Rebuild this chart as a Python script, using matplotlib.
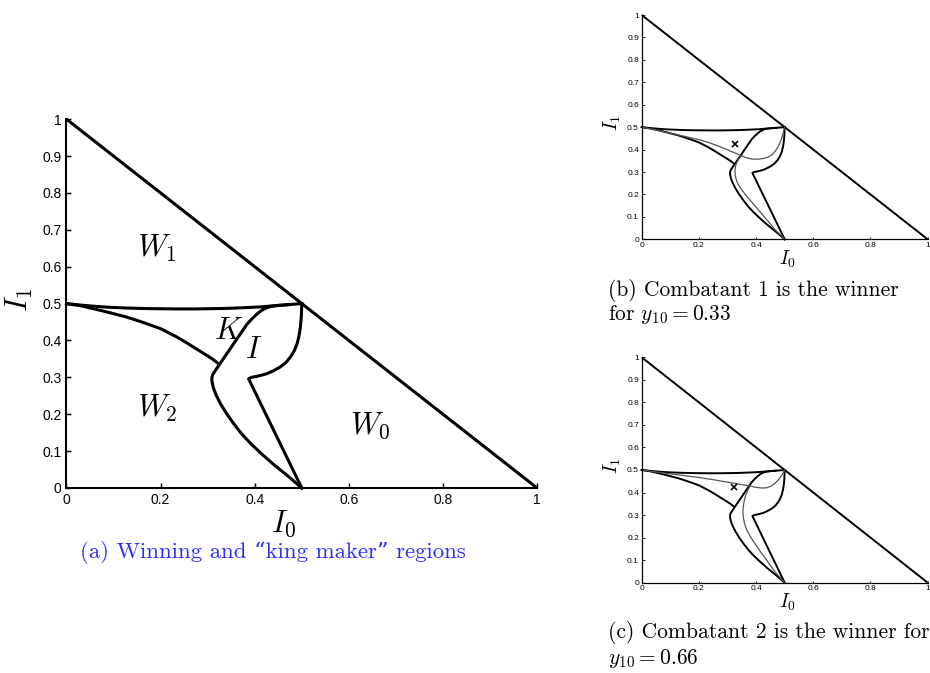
import matplotlib
matplotlib.use("Agg")
import matplotlib.pyplot as plt

plt.rcParams['mathtext.fontset'] = 'cm'
plt.rcParams['font.family'] = ['Liberation Sans', 'DejaVu Sans']

# region boundaries in the (I0, I1) plane
hyp_i0 = [0.0, 1.0]
hyp_i1 = [1.0, 0.0]

top_i0 = [0.0, 0.03, 0.057, 0.09, 0.128, 0.17, 0.2, 0.235, 0.27, 0.3, 0.341,
          0.38, 0.412, 0.44, 0.47, 0.5]
top_i1 = [0.5, 0.496, 0.493, 0.49, 0.488, 0.4865, 0.486, 0.4855, 0.4855, 0.486,
          0.487, 0.489, 0.491, 0.494, 0.497, 0.5]

w2_i0 = [0.0, 0.03, 0.058, 0.09, 0.129, 0.165, 0.2, 0.235, 0.255, 0.27, 0.285,
         0.299, 0.311, 0.322]
w2_i1 = [0.5, 0.494, 0.486, 0.476, 0.463, 0.448, 0.432, 0.409, 0.394, 0.382,
         0.37, 0.359, 0.349, 0.338]

left_i0 = [0.5, 0.47, 0.44, 0.415, 0.391, 0.372, 0.355, 0.34, 0.327, 0.318,
           0.312, 0.309, 0.309, 0.311, 0.316, 0.384, 0.395, 0.405, 0.415,
           0.426, 0.437, 0.45, 0.47]
left_i1 = [0.0, 0.033, 0.064, 0.092, 0.121, 0.147, 0.175, 0.202, 0.229, 0.252,
           0.272, 0.29, 0.3, 0.308, 0.318, 0.445, 0.46, 0.472, 0.482,
           0.489, 0.493, 0.495, 0.497]

right_i0 = [0.5, 0.387, 0.393, 0.405, 0.415, 0.426, 0.44, 0.454, 0.466, 0.476,
            0.484, 0.49, 0.494, 0.497, 0.499, 0.5]
right_i1 = [0.0, 0.296, 0.3, 0.303, 0.306, 0.31, 0.318, 0.328, 0.34, 0.355,
            0.372, 0.391, 0.412, 0.436, 0.465, 0.5]

# boundaries for the two starting points y10
b_up_i0 = [0.0, 0.05, 0.099, 0.15, 0.204, 0.24, 0.274, 0.3, 0.32, 0.344, 0.365,
           0.385, 0.405, 0.425, 0.443, 0.458, 0.47, 0.48, 0.488, 0.494, 0.5]
b_up_i1 = [0.5, 0.488, 0.473, 0.459, 0.443, 0.429, 0.413, 0.399, 0.388, 0.375, 0.364,
           0.358, 0.357, 0.36, 0.367, 0.38, 0.398, 0.42, 0.445, 0.47, 0.5]
b_lo_i0 = [0.35, 0.34, 0.333, 0.328, 0.326, 0.327, 0.331, 0.338, 0.35, 0.365,
           0.382, 0.41, 0.437, 0.465, 0.5]
b_lo_i1 = [0.373, 0.36, 0.345, 0.325, 0.305, 0.285, 0.264, 0.243, 0.22, 0.196,
           0.17, 0.128, 0.088, 0.045, 0.0]

c_up_i0 = [0.0, 0.05, 0.099, 0.15, 0.204, 0.25, 0.291, 0.32, 0.35, 0.379, 0.4,
           0.42, 0.437, 0.452, 0.466, 0.478, 0.49, 0.5]
c_up_i1 = [0.5, 0.491, 0.483, 0.475, 0.466, 0.457, 0.448, 0.442, 0.435, 0.429, 0.423,
           0.42, 0.421, 0.428, 0.441, 0.456, 0.477, 0.5]
c_lo_i0 = [0.379, 0.37, 0.363, 0.358, 0.355, 0.354, 0.355, 0.359, 0.366, 0.378,
           0.395, 0.415, 0.437, 0.465, 0.5]
c_lo_i1 = [0.429, 0.408, 0.385, 0.36, 0.337, 0.315, 0.293, 0.265, 0.238, 0.208,
           0.175, 0.138, 0.1, 0.05, 0.0]

start_b = (0.325, 0.425)
start_c = (0.322, 0.426)

region_labels = ['$W_1$', '$K$', '$I$', '$W_2$', '$W_0$']
region_pos = [(0.193, 0.649), (0.344, 0.427), (0.397, 0.373), (0.193, 0.216), (0.645, 0.17)]

xticks_main = [0, 0.2, 0.4, 0.6, 0.8, 1]
xtick_labels = ['0', '0.2', '0.4', '0.6', '0.8', '1']
yticks_main = [0, 0.1, 0.2, 0.3, 0.4, 0.5, 0.6, 0.7, 0.8, 0.9, 1]
ytick_labels = ['0', '0.1', '0.2', '0.3', '0.4', '0.5', '0.6', '0.7', '0.8', '0.9', '1']


def draw_regions(ax, lw):
    ax.plot(hyp_i0, hyp_i1, color='k', lw=lw, clip_on=False, solid_capstyle='butt')
    for xs, ys in [(top_i0, top_i1), (w2_i0, w2_i1), (left_i0, left_i1), (right_i0, right_i1)]:
        ax.plot(xs, ys, color='k', lw=lw, solid_joinstyle='round', clip_on=False)


def style_axes(ax, tick_size, tick_len, spine_w, pad):
    ax.set_xlim(0, 1)
    ax.set_ylim(0, 1)
    for s in ['top', 'right']:
        ax.spines[s].set_visible(False)
    for s in ['left', 'bottom']:
        ax.spines[s].set_linewidth(spine_w)
    ax.set_xticks(xticks_main)
    ax.set_xticklabels(xtick_labels)
    ax.set_yticks(yticks_main)
    ax.set_yticklabels(ytick_labels)
    ax.tick_params(direction='in', length=tick_len, width=spine_w * 0.7,
                   labelsize=tick_size, pad=pad)


fig = plt.figure(figsize=(9.3, 6.73), dpi=100)

# (a) main panel
ax = fig.add_axes([0.0715, 0.2749, 0.506, 0.548])
draw_regions(ax, 2.2)
style_axes(ax, 10, 3.5, 1.5, 3.5)
for lab, (x, y) in zip(region_labels, region_pos):
    ax.text(x, y, lab, fontsize=22, ha='center', va='center')
ax.set_xlabel('$I_0$', fontsize=22, labelpad=1)
ax.xaxis.set_label_coords(0.462, -0.055)
ax.set_ylabel('$I_1$', fontsize=22, labelpad=2)
ax.yaxis.set_label_coords(-0.067, 0.51)

# (b) and (c) small panels
for rect, up, lo, pt in [
    ([0.690, 0.6444, 0.3075, 0.3333], (b_up_i0, b_up_i1), (b_lo_i0, b_lo_i1), start_b),
    ([0.690, 0.1342, 0.3075, 0.3349], (c_up_i0, c_up_i1), (c_lo_i0, c_lo_i1), start_c),
]:
    a = fig.add_axes(rect)
    draw_regions(a, 1.4)
    a.plot(up[0], up[1], color='#555555', lw=0.9)
    a.plot(lo[0], lo[1], color='#555555', lw=0.9)
    a.plot([pt[0]], [pt[1]], marker='x', color='k', ms=4, mew=1.2)
    style_axes(a, 6, 1.8, 0.9, 2)
    a.set_xlabel('$I_0$', fontsize=14, labelpad=0)
    a.xaxis.set_label_coords(0.51, -0.04)
    a.set_ylabel('$I_1$', fontsize=14, labelpad=0)
    a.yaxis.set_label_coords(-0.065, 0.52)

cap = ['cmr10', 'DejaVu Serif']
fig.text(80 / 930, 1 - 553 / 673, '(a) Winning and \u201cking maker\u201d regions',
         color='#2b2bff', fontsize=16.4, family=cap, va='center', ha='left')
fig.text(608 / 930, 1 - 290 / 673, '(b) Combatant 1 is the winner',
         fontsize=15.5, family=cap, va='center', ha='left')
fig.text(608 / 930, 1 - 314 / 673, 'for $y_{10} = 0.33$',
         fontsize=15.5, family=cap, va='center', ha='left')
fig.text(608 / 930, 1 - 632 / 673, '(c) Combatant 2 is the winner for',
         fontsize=15.5, family=cap, va='center', ha='left')
fig.text(608 / 930, 1 - 658 / 673, '$y_{10} = 0.66$',
         fontsize=15.5, family=cap, va='center', ha='left')

fig.savefig('out.png', dpi=100)
